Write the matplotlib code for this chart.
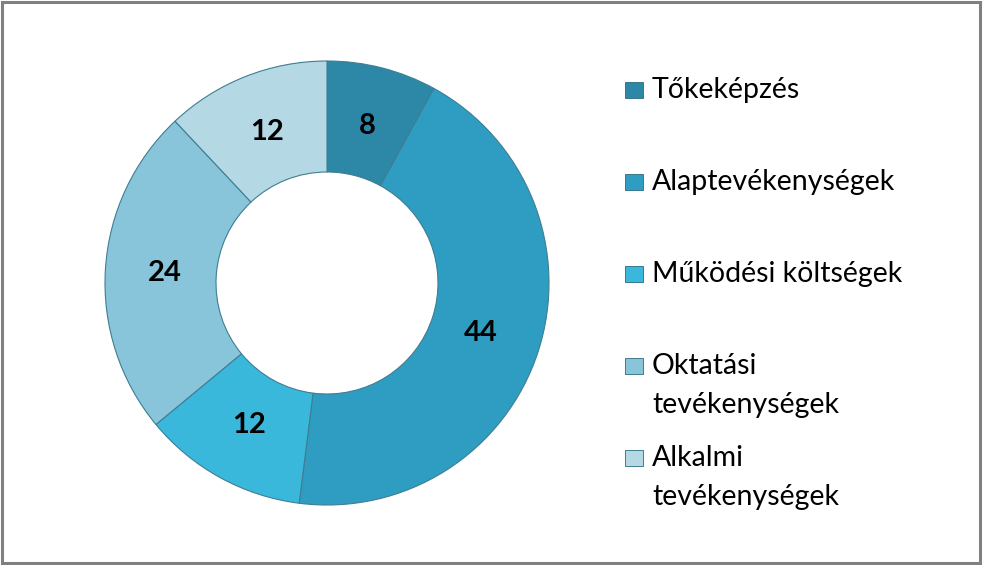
import matplotlib.pyplot as plt
from matplotlib.patches import Rectangle
import numpy as np

categories = ['Tőkeképzés', 'Alaptevékenységek', 'Működési költségek',
              'Oktatási\ntevékenységek', 'Alkalmi\ntevékenységek']
values = [8, 44, 12, 24, 12]
colors = ['#2c88a6', '#2f9dc1', '#3ab8dc', '#88c5db', '#b5d8e5']

W, H = 983, 565
fig = plt.figure(figsize=(W / 100, H / 100), dpi=100)
plt.rcParams['font.family'] = ['Lato', 'DejaVu Sans']

# donut: centre (327, 283) px from top-left, outer radius 222 px
cx, cy, r = 327, 283, 222
ax = fig.add_axes([(cx - r) / W, (H - cy - r) / H, 2 * r / W, 2 * r / H])
wedges, _ = ax.pie(values, colors=colors, startangle=90, counterclock=False,
                   radius=1, wedgeprops=dict(width=0.5, edgecolor='#3f7d92', linewidth=0.8))
ax.set_xlim(-1, 1)
ax.set_ylim(-1, 1)
ax.axis('off')

# value labels in the middle of the ring
total = sum(values)
start = 90.0
for v in values:
    mid = np.deg2rad(start - 360.0 * v / total / 2)
    ax.text(0.73 * np.cos(mid), 0.73 * np.sin(mid), str(v), ha='center', va='center',
            fontsize=21, fontweight='bold', color='black')
    start -= 360.0 * v / total

# legend drawn by hand so wrapped labels keep the marker on the first line
for i, (lab, col) in enumerate(zip(categories, colors)):
    y = 90 + 92 * i
    fig.add_artist(Rectangle((625 / W, 1 - (y + 8) / H), 18 / W, 16 / H,
                             transform=fig.transFigure, facecolor=col,
                             edgecolor='#2a6a80', linewidth=0.6))
    for k, line in enumerate(lab.split('\n')):
        fig.text(652 / W, 1 - (y + 39 * k) / H, line, ha='left', va='center',
                 fontsize=20.5, color='black')

# grey frame around the chart
fig.add_artist(Rectangle((0.002, 0.003), 0.995, 0.994, transform=fig.transFigure,
                         fill=False, edgecolor='#808080', linewidth=2.2))

fig.savefig('out.png', dpi=100)
